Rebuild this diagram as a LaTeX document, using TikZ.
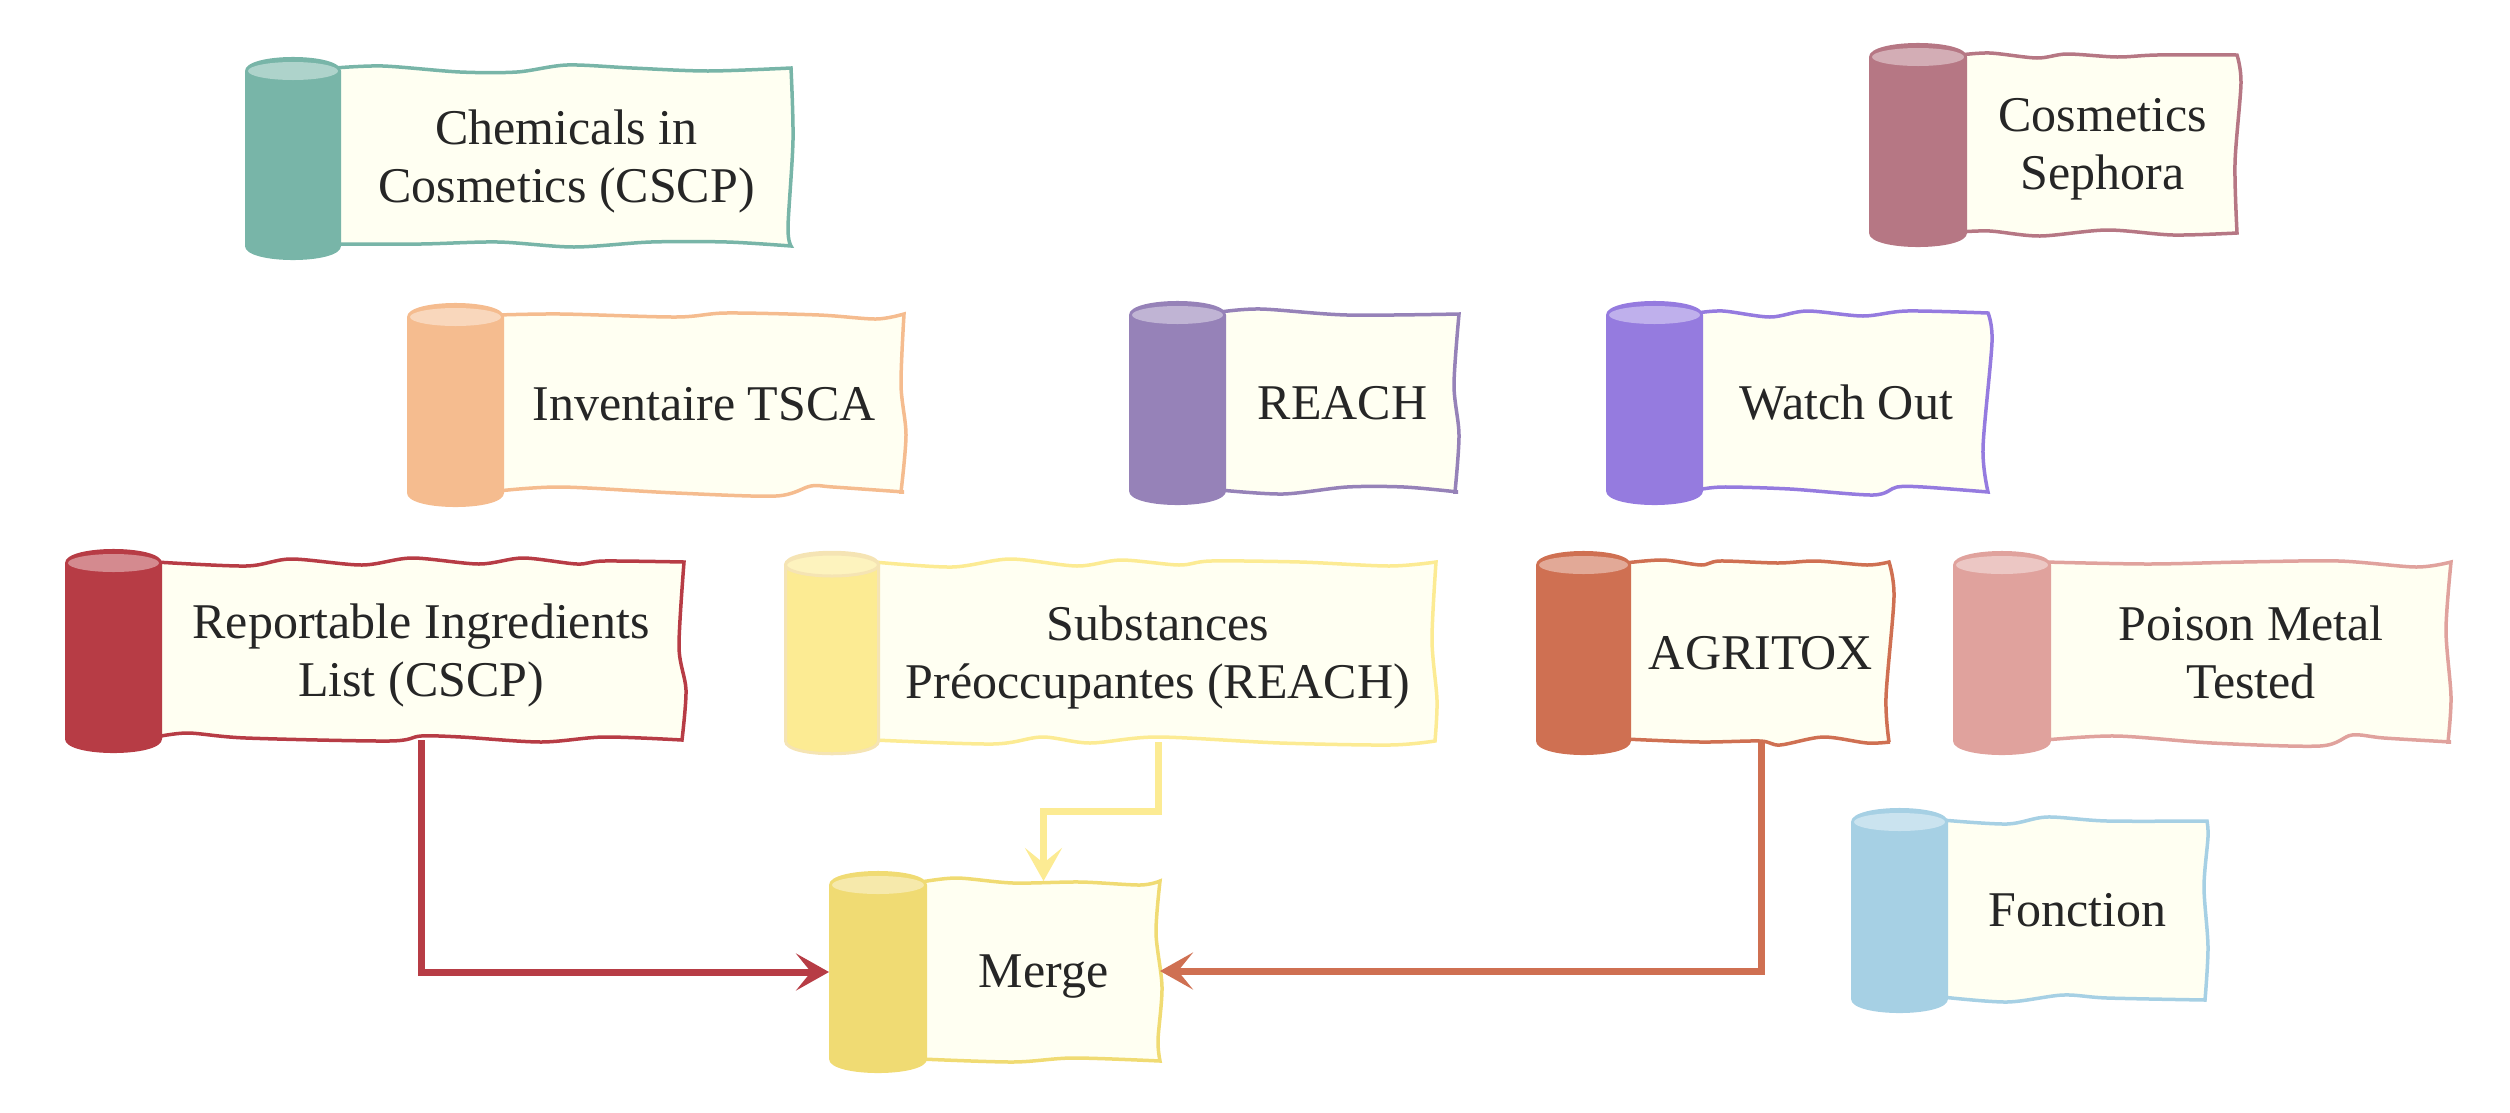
\documentclass[tikz,border=0pt]{standalone}
\usepackage{fontspec}
\setmainfont{Liberation Serif}
\usetikzlibrary{arrows.meta}
\tikzset{
  rollpaper/.style={fill=paperfill,line width=3.5pt,line join=miter},
  rollbody/.style={fill=#1},
  rollcap/.style={fill=#1!60!white},
  papertext/.style={align=center,inner sep=0pt,outer sep=0pt,text=textdark,text height=33pt,text depth=0pt,
    font=\fontsize{50}{58}\selectfont},
  twolines/.style={text height=91pt},
  flowline/.style={line width=7pt,-{Stealth[length=33pt,width=37pt,inset=15pt]}}
}
\begin{document}
\begin{tikzpicture}[x=1pt,y=-1pt]
\definecolor{paperfill}{HTML}{FFFFF2}
\definecolor{textdark}{HTML}{262626}
\definecolor{color0}{HTML}{78B5A8}
\definecolor{color1}{HTML}{B67784}
\definecolor{color2}{HTML}{F5BC8F}
\definecolor{color3}{HTML}{9682B8}
\definecolor{color4}{HTML}{957BDF}
\definecolor{color5}{HTML}{B73C45}
\definecolor{color6}{HTML}{FCEB93}
\definecolor{color7}{HTML}{CF7052}
\definecolor{color8}{HTML}{E0A29D}
\definecolor{color9}{HTML}{F0DB73}
\definecolor{color10}{HTML}{A6D0E4}
\definecolor{substrim}{HTML}{F5E4B4}
\clip (0,0) rectangle (2510,1112);
% Chemicals in Cosmetics
\draw[rollpaper,draw=color0] plot[smooth] coordinates {(335,68)(383,66)(460,72)(517,72)(567,65)(632,68)(708,71)(791,68)}
  -- plot[smooth] coordinates {(791,68)(793,140)(788,227)(791,246)}
  -- plot[smooth] coordinates {(791,246)(727,242)(651,242)(574,247)(498,242)(421,244)(335,244)} -- cycle;
\fill[rollbody=color0] (245,71) .. controls (245,52.3) and (341,52.3) .. (341,71) -- (341,246) .. controls (341,264.7) and (245,264.7) .. (245,246) -- cycle;
\fill[rollcap=color0] (293,71) ellipse [x radius=45,y radius=9];
\node[papertext,twolines,minimum width=451pt,minimum height=180pt] (chem) at (566.5,157) {Chemicals in\\Cosmetics (CSCP)};
% Cosmetics Sephora
\draw[rollpaper,draw=color1] plot[smooth] coordinates {(1960,55)(1990,53)(2037,58)(2067,54)(2117,57)(2157,55)(2237,55)}
  -- plot[smooth] coordinates {(2237,55)(2241,83)(2235,163)(2237,233)}
  -- plot[smooth] coordinates {(2237,233)(2173,235)(2107,230)(2040,236)(1990,231)(1960,232)} -- cycle;
\fill[rollbody=color1] (1869,57) .. controls (1869,38.3) and (1967,38.3) .. (1967,57) -- (1967,233) .. controls (1967,251.7) and (1869,251.7) .. (1869,233) -- cycle;
\fill[rollcap=color1] (1918,57) ellipse [x radius=46,y radius=9];
\node[papertext,twolines,minimum width=271pt,minimum height=178pt] (sephora) at (2102.5,144) {Cosmetics\\Sephora};
% Inventaire TSCA
\draw[rollpaper,draw=color2] plot[smooth] coordinates {(498,315)(561,314)(676,317)(726,313)(819,315)(876,319)(904,314)}
  -- plot[smooth] coordinates {(904,314)(901,385)(906,435)(901,492)}
  -- plot[smooth] coordinates {(904,492)(833,487)(811,486)(776,496)(676,493)(561,487)(498,491)} -- cycle;
\fill[rollbody=color2] (407,317) .. controls (407,298.3) and (504,298.3) .. (504,317) -- (504,493) .. controls (504,511.7) and (407,511.7) .. (407,493) -- cycle;
\fill[rollcap=color2] (455.5,317) ellipse [x radius=45.5,y radius=9];
\node[papertext,minimum width=400pt,minimum height=177pt] (tsca) at (704,403.5) {Inventaire TSCA};
% REACH
\draw[rollpaper,draw=color3] plot[smooth] coordinates {(1220,312)(1261,309)(1347,315)(1459,314)}
  -- plot[smooth] coordinates {(1459,314)(1454,385)(1459,435)(1455,492)}
  -- plot[smooth] coordinates {(1458,492)(1404,487)(1347,487)(1283,494)(1220,490)} -- cycle;
\fill[rollbody=color3] (1129,315) .. controls (1129,296.3) and (1226,296.3) .. (1226,315) -- (1226,491) .. controls (1226,509.7) and (1129,509.7) .. (1129,491) -- cycle;
\fill[rollcap=color3] (1177.5,315) ellipse [x radius=45.5,y radius=9];
\node[papertext,minimum width=233pt,minimum height=179pt] (reach) at (1342.5,402.5) {REACH};
% Watch Out
\draw[rollpaper,draw=color4] plot[smooth] coordinates {(1697,313)(1723,311)(1770,317)(1807,311)(1863,316)(1907,311)(1988,313)}
  -- plot[smooth] coordinates {(1988,313)(1992,342)(1983,448)(1988,492)}
  -- plot[smooth] coordinates {(1988,492)(1923,487)(1897,487)(1873,495)(1790,489)(1723,487)(1697,490)} -- cycle;
\fill[rollbody=color4] (1606,315) .. controls (1606,296.3) and (1703,296.3) .. (1703,315) -- (1703,491) .. controls (1703,509.7) and (1606,509.7) .. (1606,491) -- cycle;
\fill[rollcap=color4] (1654.5,315) ellipse [x radius=45.5,y radius=9];
\node[papertext,minimum width=286pt,minimum height=179pt] (watch) at (1846,402.5) {Watch Out};
% Reportable Ingredients List
\draw[rollpaper,draw=color5] plot[smooth] coordinates {(156,562)(246,566)(291,559)(362,565)(412,558)(479,564)(523,558)(577,564)(604,561)(684,562)}
  -- plot[smooth] coordinates {(684,562)(679,647)(686,690)(682,740)}
  -- plot[smooth] coordinates {(682,740)(604,737)(541,742)(461,737)(421,736)(389,741)(246,738)(188,733)(156,737)} -- cycle;
\fill[rollbody=color5] (65,563) .. controls (65,544.3) and (162,544.3) .. (162,563) -- (162,739) .. controls (162,757.7) and (65,757.7) .. (65,739) -- cycle;
\fill[rollcap=color5] (113.5,563) ellipse [x radius=45.5,y radius=9];
\node[papertext,twolines,minimum width=522pt,minimum height=178pt] (report) at (421,651) {Reportable Ingredients\\List (CSCP)};
% Substances Preoccupantes
\draw[rollpaper,draw=color6] plot[smooth] coordinates {(874,562)(952,567)(1010,559)(1077,566)(1121,560)(1179,565)(1211,561)(1300,562)(1389,566)(1436,562)}
  -- plot[smooth] coordinates {(1436,562)(1432,640)(1437,700)(1435,741)}
  -- plot[smooth] coordinates {(1435,741)(1390,745)(1280,743)(1157,737)(1090,743)(1042,737)(993,744)(874,740)} -- cycle;
\draw[rollbody=color6,draw=substrim,line width=3pt] (785.5,565) .. controls (785.5,548) and (878.5,548) .. (878.5,565) -- (878.5,741) .. controls (878.5,758) and (785.5,758) .. (785.5,741) -- cycle;
\draw[rollcap=color6,draw=substrim,line width=3pt] (832,565) ellipse [x radius=46.5,y radius=11];
\node[papertext,twolines,minimum width=556pt,minimum height=179pt] (subst) at (1158,652.5) {Substances\\Préoccupantes (REACH)};
% AGRITOX
\draw[rollpaper,draw=color7] plot[smooth] coordinates {(1625,563)(1663,560)(1701,565)(1720,561)(1778,563)(1816,561)(1867,565)(1889,562)}
  -- plot[smooth] coordinates {(1889,562)(1894,597)(1886,697)(1889,742)}
  -- plot[smooth] coordinates {(1890,742)(1867,743)(1823,737)(1780,745)(1760,741)(1700,742)(1625,739)} -- cycle;
\fill[rollbody=color7] (1536,565) .. controls (1536,546.3) and (1631,546.3) .. (1631,565) -- (1631,741) .. controls (1631,759.7) and (1536,759.7) .. (1536,741) -- cycle;
\fill[rollcap=color7] (1583.5,565) ellipse [x radius=44.5,y radius=9];
\node[papertext,minimum width=260pt,minimum height=179pt] (agritox) at (1761,652.5) {AGRITOX};
% Poison Metal Tested
\draw[rollpaper,draw=color8] plot[smooth] coordinates {(2045,562)(2148,564)(2243,562)(2339,561)(2416,567)(2451,562)}
  -- plot[smooth] coordinates {(2451,562)(2446,630)(2451,697)(2448,742)}
  -- plot[smooth] coordinates {(2451,742)(2384,738)(2352,735)(2320,746)(2212,743)(2116,736)(2045,740)} -- cycle;
\fill[rollbody=color8] (1953,565) .. controls (1953,546.3) and (2051,546.3) .. (2051,565) -- (2051,741) .. controls (2051,759.7) and (1953,759.7) .. (1953,741) -- cycle;
\fill[rollcap=color8] (2002,565) ellipse [x radius=46,y radius=9];
\node[papertext,twolines,minimum width=400pt,minimum height=179pt] (poison) at (2251,652.5) {Poison Metal\\Tested};
% Merge
\draw[rollpaper,draw=color9] plot[smooth] coordinates {(921,882)(957,878)(1013,883)(1080,882)(1140,885)(1160,881)}
  -- plot[smooth] coordinates {(1160,881)(1156,933)(1162,987)(1158,1040)(1160,1061)}
  -- plot[smooth] coordinates {(1160,1061)(1073,1058)(1013,1062)(921,1059)} -- cycle;
\fill[rollbody=color9] (829,885) .. controls (829,866.3) and (927,866.3) .. (927,885) -- (927,1059) .. controls (927,1077.7) and (829,1077.7) .. (829,1059) -- cycle;
\fill[rollcap=color9] (878,885) ellipse [x radius=46,y radius=9];
\coordinate (mergeroll) at (829,972);
\node[papertext,minimum width=233pt,minimum height=180pt] (merge) at (1043.5,971) {Merge};
% Fonction
\draw[rollpaper,draw=color10] plot[smooth] coordinates {(1942,820)(2007,824)(2047,817)(2107,821)(2207,821)}
  -- plot[smooth] coordinates {(2207,821)(2208,837)(2204,887)(2208,947)(2205,1000)}
  -- plot[smooth] coordinates {(2205,1000)(2107,998)(2063,995)(2007,1002)(1942,997)} -- cycle;
\fill[rollbody=color10] (1851,822) .. controls (1851,803.3) and (1948,803.3) .. (1948,822) -- (1948,999) .. controls (1948,1017.7) and (1851,1017.7) .. (1851,999) -- cycle;
\fill[rollcap=color10] (1899.5,822) ellipse [x radius=45.5,y radius=9];
\node[papertext,minimum width=259pt,minimum height=180pt] (fonction) at (2077.5,910) {Fonction};
% connectors
\draw[flowline,color5] (report.south) |- (mergeroll);
\draw[flowline,color6] (subst.south) -- ++(0,69) -| (merge.north);
\draw[flowline,color7] (agritox.south) |- (merge.east);
\end{tikzpicture}
\end{document}
